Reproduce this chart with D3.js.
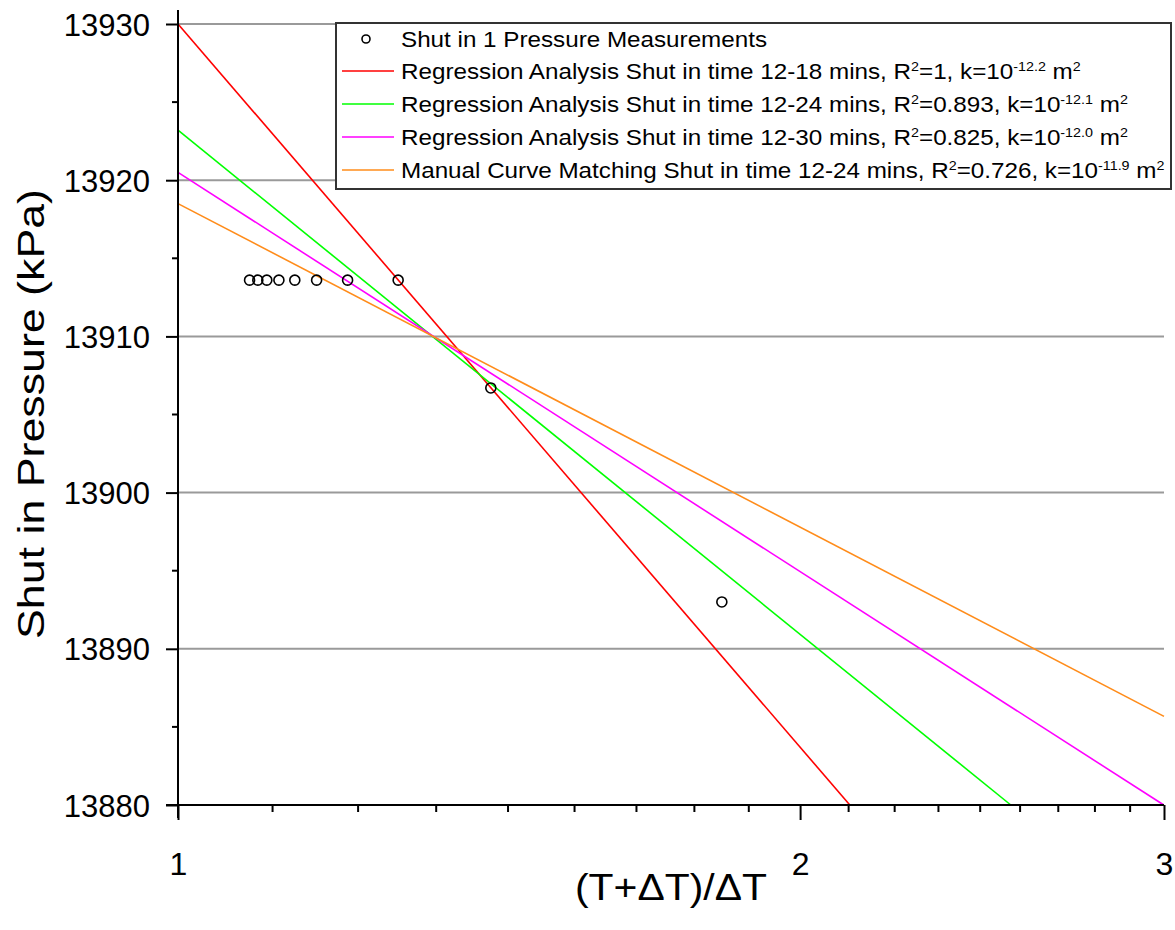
<!DOCTYPE html>
<html>
<head>
<meta charset="utf-8">
<script src="https://cdn.jsdelivr.net/npm/d3@7"></script>
<style>
  body { margin: 0; background: #fff; }
  text { font-family: "Liberation Sans", Arial, sans-serif; fill: #000; }
</style>
</head>
<body>
<div id="chart"></div>
<script>
// measured points: (T+dT)/dT vs shut in pressure
var ratio = [1.833, 1.417, 1.278, 1.208, 1.167, 1.139, 1.119, 1.104, 1.093, 1.083];
var pressure = [13893.0, 13906.7, 13913.6, 13913.6, 13913.6, 13913.6, 13913.6, 13913.6, 13913.6, 13913.6];

// fitted lines: P = p0 + slope * log10(ratio)
var lineNames = ["red", "green", "magenta", "orange"];
var lineP0 = [13930.0, 13923.2, 13920.5, 13918.5];
var lineSlope = [-153.8, -107.2, -84.9, -68.8];
var lineColors = ["#ff0000", "#00ff00", "#ff00ff", "#ff8c1a"];

var yTicks = [13880, 13890, 13900, 13910, 13920, 13930];
var yMinor = [13885, 13895, 13905, 13915, 13925];
var xTicks = [1, 2, 3];

var legendRows = [
    {kind: "point", parts: [["Shut in 1 Pressure Measurements"]]},
    {kind: "line", color: lineColors[0], parts: [["Regression Analysis Shut in time 12-18 mins, R"], ["2", "sup"], ["=1, k=10"], ["-12.2", "sup"], [" m"], ["2", "sup"]]},
    {kind: "line", color: lineColors[1], parts: [["Regression Analysis Shut in time 12-24 mins, R"], ["2", "sup"], ["=0.893, k=10"], ["-12.1", "sup"], ["  m"], ["2", "sup"]]},
    {kind: "line", color: lineColors[2], parts: [["Regression Analysis Shut in time 12-30 mins, R"], ["2", "sup"], ["=0.825, k=10"], ["-12.0", "sup"], ["  m"], ["2", "sup"]]},
    {kind: "line", color: lineColors[3], parts: [["Manual Curve Matching Shut in time 12-24 mins, R"], ["2", "sup"], ["=0.726, k=10"], ["-11.9", "sup"], ["  m"], ["2", "sup"]]}
];

var width = 1175,
    height = 930;

var svg = d3.select("#chart").append("svg")
    .attr("width", width)
    .attr("height", height);

var x = d3.scaleLog().domain([1, 3]).range([178, 1164]);
var y = d3.scaleLinear().domain([13880, 13930]).range([805, 24]);

// grid
svg.append("g")
    .selectAll("line")
    .data(yTicks.slice(1))
    .enter().append("line")
    .attr("x1", x(1)).attr("x2", x(3))
    .attr("y1", d => y(d)).attr("y2", d => y(d))
    .attr("stroke", "#9a9a9a")
    .attr("stroke-width", 2);

// fitted lines, clipped at the bottom of the plot
var fits = lineNames.map((n, i) => {
    var xEnd = Math.min(3, Math.pow(10, (13880 - lineP0[i]) / lineSlope[i]));
    return {name: n, color: lineColors[i], pts: [[1, lineP0[i]], [xEnd, lineP0[i] + lineSlope[i] * Math.log10(xEnd)]]};
});

svg.append("g").selectAll("path")
    .data(fits)
    .enter().append("path")
    .attr("d", d => d3.line().x(p => x(p[0])).y(p => y(p[1]))(d.pts))
    .attr("fill", "none")
    .attr("stroke", d => d.color)
    .attr("stroke-width", 1.6);

// points
svg.append("g").selectAll("circle")
    .data(ratio.map((r, i) => [r, pressure[i]]))
    .enter().append("circle")
    .attr("cx", d => x(d[0]))
    .attr("cy", d => y(d[1]))
    .attr("r", 5)
    .attr("fill", "none")
    .attr("stroke", "#000")
    .attr("stroke-width", 1.6);

// Y axis
var yAxis = d3.axisLeft(y).tickValues(yTicks).tickSize(12).tickPadding(16).tickFormat(d3.format("d"));
var gy = svg.append("g")
    .attr("transform", `translate(${x(1)},0)`)
    .call(yAxis);
gy.select(".domain").remove();
gy.selectAll(".tick line").attr("stroke", "#000").attr("stroke-width", 2);
gy.selectAll(".tick text").style("font-size", "31px").attr("dy", "0.36em");
gy.selectAll(".minor")
    .data(yMinor)
    .enter().append("line")
    .attr("class", "minor")
    .attr("x1", -6).attr("x2", 0)
    .attr("y1", d => y(d)).attr("y2", d => y(d))
    .attr("stroke", "#000").attr("stroke-width", 2);
gy.append("line")
    .attr("x1", 0).attr("x2", 0)
    .attr("y1", 10).attr("y2", 818)
    .attr("stroke", "#000").attr("stroke-width", 2);

// X axis
var xMinor = [];
[1, 2].forEach(b => { for (var k = 1; k < 9; k++) xMinor.push(b + k / 9); });

var xAxis = d3.axisBottom(x).tickValues(xTicks).tickSize(15).tickFormat(d3.format("d"));
var gx = svg.append("g")
    .attr("transform", `translate(0,${y(13880)})`)
    .call(xAxis);
gx.select(".domain").remove();
gx.selectAll(".tick line").attr("stroke", "#000").attr("stroke-width", 2);
gx.selectAll(".tick text")
    .style("font-size", "32px")
    .attr("y", 70)
    .attr("dy", null);
gx.selectAll(".minor")
    .data(xMinor)
    .enter().append("line")
    .attr("class", "minor")
    .attr("x1", d => x(d)).attr("x2", d => x(d))
    .attr("y1", 0).attr("y2", 7)
    .attr("stroke", "#000").attr("stroke-width", 2);
gx.append("line")
    .attr("x1", 166).attr("x2", x(3))
    .attr("y1", 0).attr("y2", 0)
    .attr("stroke", "#000").attr("stroke-width", 2);

// axis titles
svg.append("text")
    .attr("x", 671).attr("y", 900)
    .attr("text-anchor", "middle")
    .style("font-size", "37px")
    .attr("textLength", 192).attr("lengthAdjust", "spacingAndGlyphs")
    .text("(T+ΔT)/ΔT");

svg.append("text")
    .attr("transform", "translate(44,414) rotate(-90)")
    .attr("text-anchor", "middle")
    .style("font-size", "36px")
    .attr("textLength", 450).attr("lengthAdjust", "spacingAndGlyphs")
    .text("Shut in Pressure (kPa)");

// legend
var legend = svg.append("g").attr("class", "legend");
legend.append("rect")
    .attr("x", 336).attr("y", 23)
    .attr("width", 835).attr("height", 166)
    .attr("fill", "#fff")
    .attr("stroke", "#333")
    .attr("stroke-width", 2);

var rowY = [39, 71, 104, 137, 170];
var rows = legend.selectAll(".row")
    .data(legendRows)
    .enter().append("g")
    .attr("class", "row")
    .attr("transform", (d, i) => `translate(0,${rowY[i]})`);

rows.filter(d => d.kind === "line").append("line")
    .attr("x1", 342).attr("x2", 394)
    .attr("stroke", d => d.color)
    .attr("stroke-width", 1.6);
rows.filter(d => d.kind === "point").append("circle")
    .attr("cx", 366).attr("r", 4)
    .attr("fill", "none").attr("stroke", "#000").attr("stroke-width", 1.6);

var texts = rows.append("text")
    .attr("x", 0).attr("y", 0).attr("dy", "0.35em")
    .style("font-size", "22px");
texts.each(function (d) {
    var t = d3.select(this);
    d.parts.forEach(p => {
        var ts = t.append("tspan").text(p[0]);
        if (p[1] === "sup") ts.attr("baseline-shift", "60%").style("font-size", "13px");
    });
});
// squeeze legend text horizontally so the longest row ends at the box edge
var longest = d3.max(texts.nodes(), n => n.getBBox().width);
var sx = 764 / longest;
texts.attr("transform", `translate(401,0) scale(${sx},1)`);
</script>
</body>
</html>
